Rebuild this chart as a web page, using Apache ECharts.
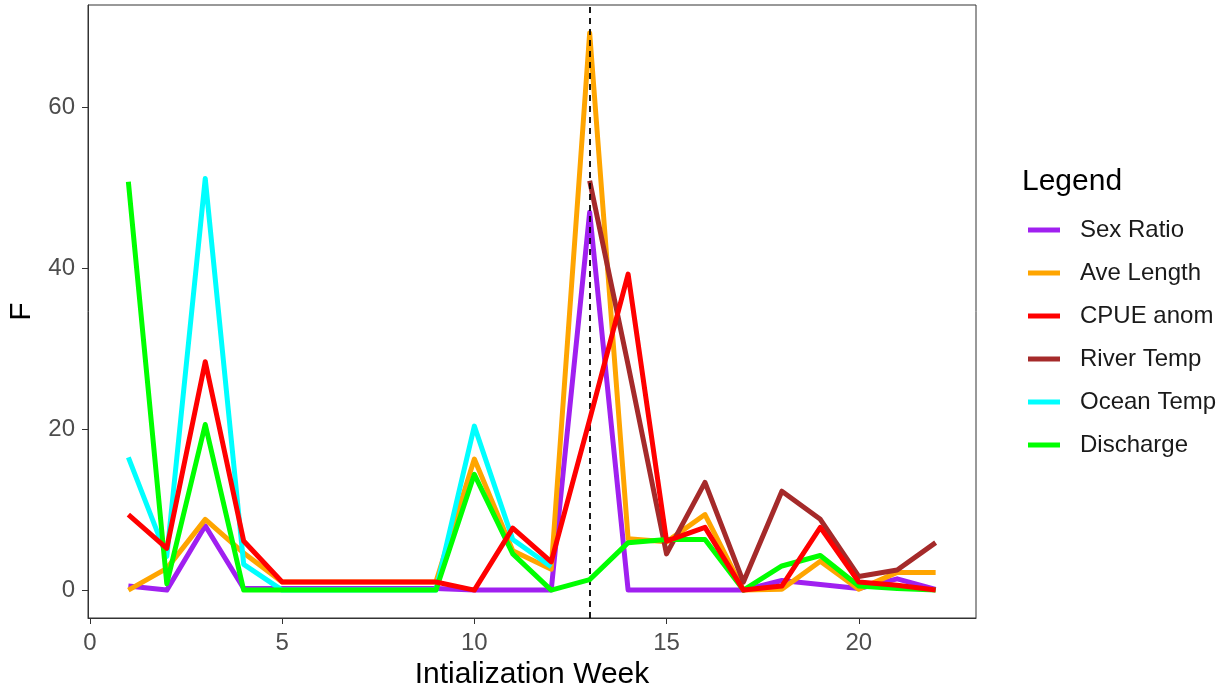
<!DOCTYPE html>
<html>
<head>
<meta charset="utf-8">
<script src="https://cdn.jsdelivr.net/npm/echarts@6/dist/echarts.min.js"></script>
<style>
  html, body { margin: 0; padding: 0; background: #fff; }
  #chart { width: 1227px; height: 696px; }
</style>
</head>
<body>
<div id="chart"></div>
<script>
// Initialization weeks 1..22
const weeks = [1,2,3,4,5,6,7,8,9,10,11,12,13,14,15,16,17,18,19,20,21,22];

// F statistic per covariate
const sexRatio   = [0.5, 0, 8.0, 0.2, 0.2, 0.2, 0.2, 0.2, 0.2, 0, 0, 0, 47.0, 0, 0, 0, 0, 1.2, 0.7, 0.2, 1.4, 0.1];
const aveLength  = [0, 2.7, 8.8, 4.6, 1.0, 1.0, 1.0, 1.0, 1.0, 16.3, 4.9, 2.6, 69.3, 6.4, 6.0, 9.4, 0, 0.1, 3.6, 0.1, 2.2, 2.2];
const cpueAnom   = [9.4, 5.2, 28.4, 6.1, 1.0, 1.0, 1.0, 1.0, 1.0, 0, 7.7, 3.5, 21.2, 39.3, 6.1, 7.8, 0, 0.5, 7.8, 1.0, 0.6, 0];
const riverTemp  = [null, null, null, null, null, null, null, null, null, null, null, null, 50.9, 28, 4.5, 13.4, 1.0, 12.3, 8.8, 1.7, 2.5, 5.9];
const oceanTemp  = [16.5, 4.2, 51.2, 3.2, 0, 0, 0, 0, 0, 20.4, 6.3, 2.9, null, null, null, null, null, null, null, null, null, null];
const discharge  = [50.8, 0.8, 20.6, 0, 0, 0, 0, 0, 0, 14.4, 4.5, 0, 1.3, 5.9, 6.3, 6.3, 0, 3.0, 4.3, 0.5, 0.2, 0];

// Week of interest marked with a dashed rule
const markWeek = 13;

const xTicks = [0, 5, 10, 15, 20];
const yTicks = [0, 20, 40, 60];

const seriesDefs = [
  { name: 'Sex Ratio',  data: sexRatio,  color: '#A020F0', z: 2 },
  { name: 'Ave Length', data: aveLength, color: '#FFA500', z: 3 },
  { name: 'CPUE anom',  data: cpueAnom,  color: '#FF0000', z: 7 },
  { name: 'River Temp', data: riverTemp, color: '#A52A2A', z: 4 },
  { name: 'Ocean Temp', data: oceanTemp, color: '#00FFFF', z: 5 },
  { name: 'Discharge',  data: discharge, color: '#00FF00', z: 6 }
];

const font = '"Liberation Sans", Arial, sans-serif';

const series = seriesDefs.map(d => ({
  name: d.name,
  type: 'line',
  z: d.z,
  data: weeks.map((w, i) => [w, d.data[i]]),
  showSymbol: false,
  connectNulls: false,
  lineStyle: { color: d.color, width: 5, cap: 'butt', join: 'round' },
  itemStyle: { color: d.color },
  emphasis: { disabled: true },
  animation: false
}));

// Dashed vertical rule
series.push({
  type: 'line',
  data: [],
  z: 9,
  silent: true,
  markLine: {
    symbol: ['none', 'none'],
    silent: true,
    label: { show: false },
    lineStyle: { color: '#000', type: [6, 5], width: 1.8 },
    data: [{ xAxis: markWeek }],
    animation: false
  }
});

const chart = echarts.init(document.getElementById('chart'), null, { renderer: 'canvas' });
chart.setOption({
  animation: false,
  backgroundColor: '#ffffff',
  grid: {
    left: 88, top: 5, width: 888, height: 613,
    containLabel: false,
    outerBoundsMode: 'none',
    show: true, borderColor: '#333333', borderWidth: 1, backgroundColor: 'transparent'
  },
  xAxis: {
    type: 'value',
    min: -0.05, max: 23.05,
    interval: 5,
    name: 'Intialization Week',
    nameLocation: 'middle',
    nameGap: 42,
    nameTextStyle: { fontFamily: font, fontSize: 30, color: '#000' },
    axisLine: { show: true, onZero: false, lineStyle: { color: '#333333', width: 1 } },
    axisTick: { show: true, length: 6, lineStyle: { color: '#333333' }, customValues: xTicks },
    axisLabel: { fontFamily: font, fontSize: 24, color: '#4D4D4D', margin: 13, customValues: xTicks },
    splitLine: { show: false }
  },
  yAxis: {
    type: 'value',
    min: -3.47, max: 72.77,
    name: 'F',
    nameLocation: 'middle',
    nameGap: 51,
    nameRotate: 90,
    nameTextStyle: { fontFamily: font, fontSize: 30, color: '#000' },
    axisLine: { show: true, onZero: false, lineStyle: { color: '#333333', width: 1 } },
    axisTick: { show: true, length: 6, lineStyle: { color: '#333333' }, customValues: yTicks },
    axisLabel: { fontFamily: font, fontSize: 24, color: '#4D4D4D', margin: 13, customValues: yTicks },
    splitLine: { show: false }
  },
  title: {
    text: 'Legend',
    left: 1017, top: 162,
    textStyle: { fontFamily: font, fontSize: 30, fontWeight: 'normal', color: '#000' }
  },
  legend: {
    orient: 'vertical',
    left: 1023, top: 212,
    icon: 'rect',
    itemWidth: 32, itemHeight: 5,
    itemGap: 17,
    data: seriesDefs.map(d => d.name),
    selectedMode: false,
    textStyle: { fontFamily: font, fontSize: 24, color: '#1a1a1a', padding: [0, 0, 0, 15], lineHeight: 26 }
  },
  series: series
});
</script>
</body>
</html>
